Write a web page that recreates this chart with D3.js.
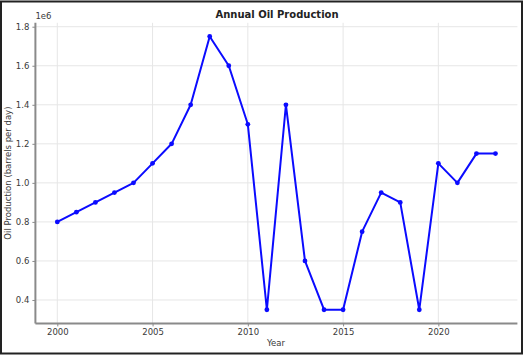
<!DOCTYPE html>
<html>
<head>
<meta charset="utf-8">
<script src="https://cdn.jsdelivr.net/npm/d3@7"></script>
<style>
  html, body { margin: 0; padding: 0; background: #fff; }
  svg { display: block; }
</style>
</head>
<body>
<svg id="chart" width="524" height="356"></svg>
<script>
const years = [2000, 2001, 2002, 2003, 2004, 2005, 2006, 2007, 2008, 2009, 2010, 2011,
               2012, 2013, 2014, 2015, 2016, 2017, 2018, 2019, 2020, 2021, 2022, 2023];
const production = [800000, 850000, 900000, 950000, 1000000, 1100000, 1200000, 1400000,
                    1750000, 1600000, 1300000, 350000, 1400000, 600000, 350000, 350000,
                    750000, 950000, 900000, 350000, 1100000, 1000000, 1150000, 1150000];
const xTicks = [2000, 2005, 2010, 2015, 2020];
const yTicks = [400000, 600000, 800000, 1000000, 1200000, 1400000, 1600000, 1800000];
const titleText = "Annual Oil Production";
const xLabel = "Year";
const yLabel = "Oil Production (barrels per day)";
const offsetText = "1e6";

(function () {
const svg = d3.select("#chart");
const font = "DejaVu Sans, sans-serif";

const pL = 35.4, pR = 517.4, pT = 22.8, pB = 323.4;
const xMin = d3.min(years), xMax = d3.max(years);
const xPad = (xMax - xMin) * 0.05;
const yMin = d3.min(production), yMax = d3.max(production);
const yPad = (yMax - yMin) * 0.05;

const x = d3.scaleLinear().domain([xMin - xPad, xMax + xPad]).range([pL, pR]);
const y = d3.scaleLinear().domain([yMin - yPad, yMax + yPad]).range([pB, pT]);

// outer frame
svg.append("rect").attr("x", 1).attr("y", 1.5).attr("width", 521).attr("height", 352)
  .attr("fill", "#fff").attr("stroke", "#222").attr("stroke-width", 2);

// grid
const grid = svg.append("g");
grid.selectAll("line.gx").data(xTicks).join("line")
  .attr("x1", d => x(d)).attr("x2", d => x(d))
  .attr("y1", pT).attr("y2", pB)
  .attr("stroke", "#e6e6e6").attr("stroke-width", 1);
grid.selectAll("line.gy").data(yTicks).join("line")
  .attr("x1", pL).attr("x2", pR)
  .attr("y1", d => y(d)).attr("y2", d => y(d))
  .attr("stroke", "#e6e6e6").attr("stroke-width", 1);

// axes
const xAxis = d3.axisBottom(x).tickValues(xTicks).tickFormat(d3.format("d"))
  .tickSize(3).tickPadding(3);
const yAxis = d3.axisLeft(y).tickValues(yTicks).tickFormat(d => (d / 1e6).toFixed(1))
  .tickSize(3).tickPadding(3);

const gx = svg.append("g").attr("transform", `translate(0,${pB})`).call(xAxis);
const gy = svg.append("g").attr("transform", `translate(${pL},0)`).call(yAxis);

[gx, gy].forEach(g => {
  g.select(".domain").attr("stroke", "#8a8a8a").attr("stroke-width", 2);
  g.selectAll(".tick line").attr("stroke", "#8a8a8a").attr("stroke-width", 1);
  g.selectAll(".tick text").attr("fill", "#3a3a3a")
    .style("font-family", font).style("font-size", "8.5px");
});
gx.select(".domain").attr("d", `M${pL},0H${pR}`);
gy.select(".domain").attr("d", `M0,${pB}V${pT}`);

// line + markers
const line = d3.line().x((d, i) => x(years[i])).y(d => y(d));
svg.append("path").datum(production)
  .attr("d", line).attr("fill", "none")
  .attr("stroke", "#0b0bff").attr("stroke-width", 2).attr("stroke-linejoin", "round");
svg.append("g").selectAll("circle").data(production).join("circle")
  .attr("cx", (d, i) => x(years[i])).attr("cy", d => y(d)).attr("r", 2.4)
  .attr("fill", "#0b0bff");

// texts
svg.append("text").attr("x", 277).attr("y", 18).attr("text-anchor", "middle")
  .style("font-family", font).style("font-size", "10px").style("font-weight", "bold")
  .attr("fill", "#222").text(titleText);
svg.append("text").attr("x", 276).attr("y", 346).attr("text-anchor", "middle")
  .style("font-family", font).style("font-size", "8.5px")
  .attr("fill", "#3a3a3a").text(xLabel);
svg.append("text").attr("transform", `translate(11,${(pT + pB) / 2}) rotate(-90)`)
  .attr("text-anchor", "middle")
  .style("font-family", font).style("font-size", "8.5px")
  .attr("fill", "#3a3a3a").text(yLabel);
svg.append("text").attr("x", pL).attr("y", 19)
  .style("font-family", font).style("font-size", "8.5px")
  .attr("fill", "#3a3a3a").text(offsetText);
})();
</script>
</body>
</html>
